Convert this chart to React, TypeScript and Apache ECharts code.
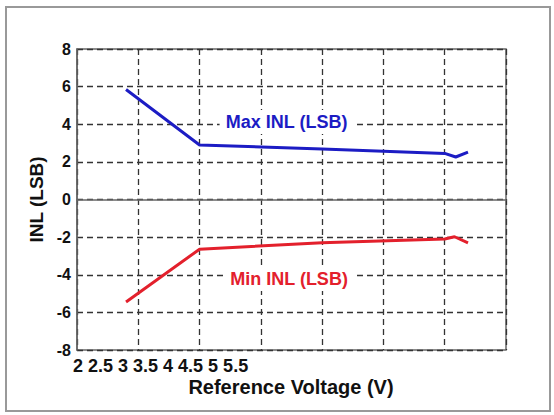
import React, { useEffect, useRef } from "react";
import * as echarts from "echarts";

// reference voltage (V) and INL (LSB)
const maxVoltage = [2.4, 3.0, 4.0, 5.0, 5.09, 5.19];
const maxInl = [5.85, 2.9, 2.68, 2.45, 2.26, 2.52];
const minVoltage = [2.4, 3.0, 4.0, 5.0, 5.08, 5.19];
const minInl = [-5.45, -2.64, -2.3, -2.1, -1.98, -2.3];

// x tick labels as printed, crammed under the left of the axis
const xTickLabels = ["2", "2.5", "3", "3.5", "4", "4.5", "5", "5.5"];

const FONT = "'Liberation Sans', Arial, Helvetica, sans-serif";
const BLUE = "#1c1cc4";
const RED = "#e3202c";

function pairs(xs: number[], ys: number[]) {
  return xs.map((x, i) => [x, ys[i]]);
}

export default function App() {
  const chartRef = useRef<HTMLDivElement>(null);

  useEffect(() => {
    if (!chartRef.current) return;
    const chart = echarts.init(chartRef.current, null, { renderer: "svg" });

    const gridLine = {
      show: true,
      lineStyle: { color: "#333", width: 1.3, type: [6, 4] as number[] },
    };

    const lineLabel = (text: string, color: string, coord: number[]) => ({
      symbol: "rect",
      symbolSize: 0,
      data: [{ coord }],
      label: {
        show: true,
        position: "inside" as const,
        formatter: text,
        color,
        fontFamily: FONT,
        fontWeight: "bold" as const,
        fontSize: 18,
        backgroundColor: "#fff",
        padding: [3, 6],
      },
    });

    chart.setOption({
      animation: false,
      backgroundColor: "#fff",
      grid: {
        left: 77,
        top: 49,
        right: 48,
        bottom: 65,
        show: true,
        borderColor: "#666",
        borderWidth: 1.5,
        backgroundColor: "transparent",
      },
      xAxis: {
        type: "value",
        min: 2,
        max: 5.5,
        interval: 0.5,
        axisLine: { show: true, lineStyle: { color: "#666", width: 1.5 } },
        axisTick: { show: false },
        axisLabel: { show: false },
        splitLine: gridLine,
      },
      yAxis: {
        type: "value",
        min: -8,
        max: 8,
        interval: 2,
        name: "INL (LSB)",
        nameLocation: "middle",
        nameGap: 26,
        nameTextStyle: { fontFamily: FONT, fontWeight: "bold", fontSize: 19, color: "#111" },
        axisLine: { show: true, lineStyle: { color: "#666", width: 1.5 } },
        axisTick: { show: false },
        axisLabel: { fontFamily: FONT, fontWeight: "bold", fontSize: 16, color: "#111", margin: 6 },
        splitLine: gridLine,
      },
      series: [
        {
          type: "line",
          data: pairs(maxVoltage, maxInl),
          symbol: "none",
          lineStyle: { color: BLUE, width: 3 },
          z: 3,
          markPoint: lineLabel("Max INL (LSB)", BLUE, [3.71, 4.12]),
        },
        {
          type: "line",
          data: pairs(minVoltage, minInl),
          symbol: "none",
          lineStyle: { color: RED, width: 3 },
          z: 3,
          markPoint: lineLabel("Min INL (LSB)", RED, [3.73, -4.23]),
        },
      ],
      graphic: [
        {
          type: "rect",
          shape: { x: 6, y: 7, width: 544, height: 404 },
          style: { fill: "none", stroke: "#999", lineWidth: 2 },
          silent: true,
        },
        {
          type: "text",
          x: 73,
          y: 366,
          style: {
            text: xTickLabels.join(" "),
            font: `bold 18px ${FONT}`,
            fill: "#111",
            verticalAlign: "middle",
          },
        },
        {
          type: "text",
          x: 291,
          y: 387,
          style: {
            text: "Reference Voltage (V)",
            font: `bold 20px ${FONT}`,
            fill: "#111",
            align: "center",
            verticalAlign: "middle",
          },
        },
      ],
    });

    return () => chart.dispose();
  }, []);

  return (
    <div
      ref={chartRef}
      style={{ position: "fixed", left: 0, top: 0, width: 554, height: 415, background: "#fff" }}
    />
  );
}
